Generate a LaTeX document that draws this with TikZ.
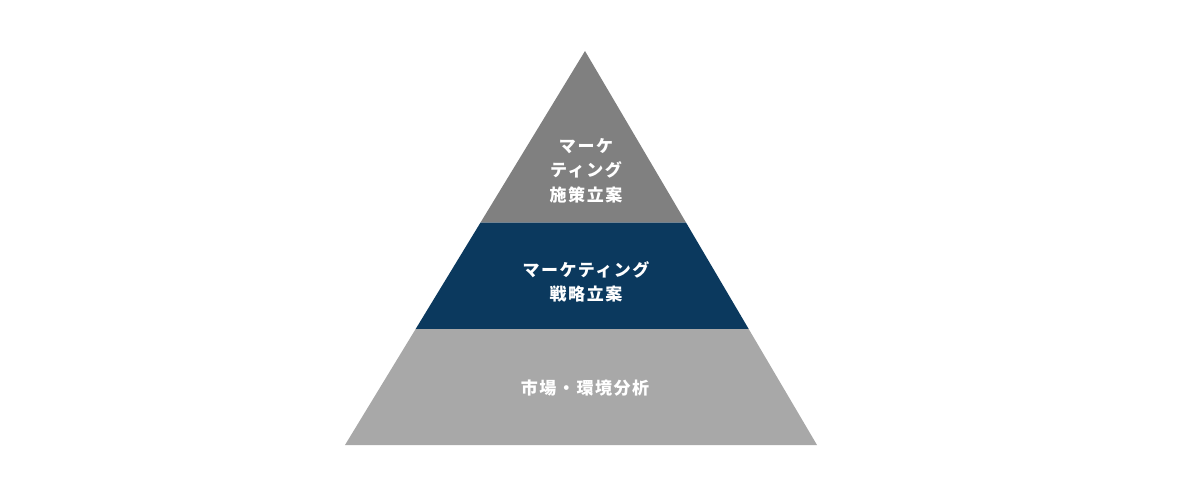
\documentclass[tikz,border=0pt]{standalone}
\usepackage{fontspec}
\newfontfamily\jpfont[LetterSpace=9]{Noto Sans CJK JP}
\usepackage{tikz}
\usetikzlibrary{calc}
\definecolor{topgray}{RGB}{128,128,128}
\definecolor{midnavy}{RGB}{11,57,94}
\definecolor{basegray}{RGB}{168,168,168}

\begin{document}
\begin{tikzpicture}[x=1pt,y=-1pt, every node/.style={text=white, align=center, font=\jpfont\bfseries\fontsize{17}{24.5}\selectfont}]
            \useasboundingbox (0,0) rectangle (1200,500);
            \coordinate (apex) at (585,51);
            \coordinate (bl) at (345,445);
            \coordinate (br) at (817,445);
            \coordinate (ml) at ($(apex)!0.4353!(bl)$);
            \coordinate (mr) at ($(apex)!0.4353!(br)$);
            \coordinate (ll) at ($(apex)!0.7056!(bl)$);
            \coordinate (lr) at ($(apex)!0.7056!(br)$);

            % three bands
            \fill [topgray] (apex)--(mr)--(ml)--cycle;
            \fill [midnavy] (ml)--(mr)--(lr)--(ll)--cycle;
            \fill [basegray] (ll)--(lr)--(br)--(bl)--cycle;

            \node (plan) at (586,170.5) {マーケ\\ティング\\施策立案};
            \node (strategy) at (586,282) {マーケティング\\戦略立案};
            \node (analysis) at (585,388) {市場・環境分析};
\end{tikzpicture}
\end{document}
